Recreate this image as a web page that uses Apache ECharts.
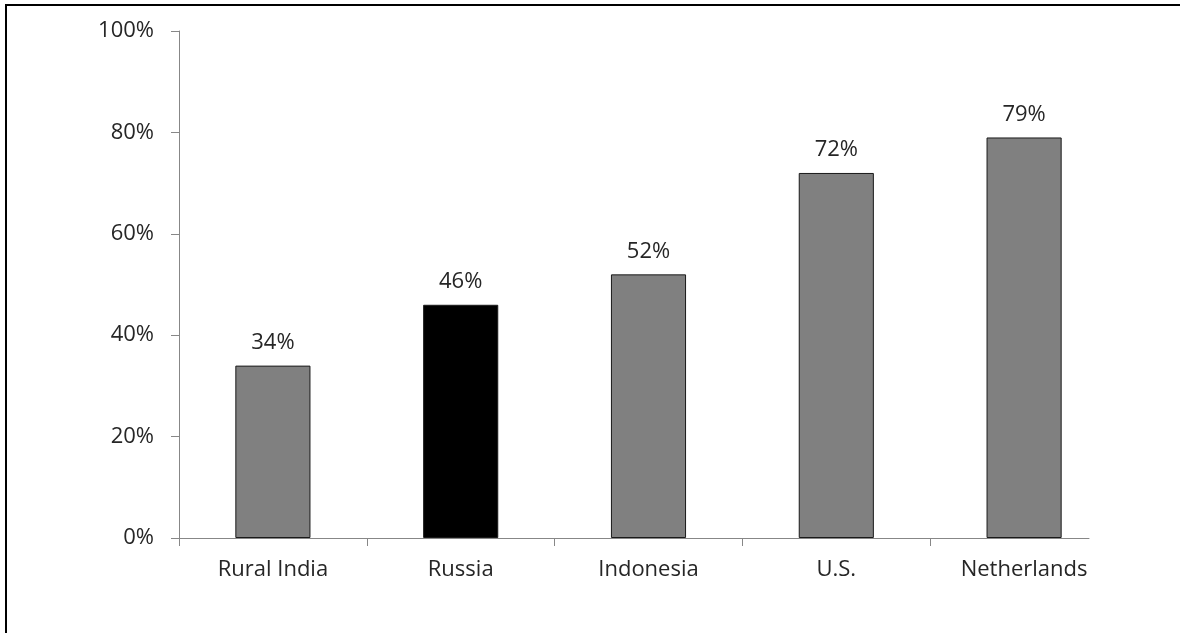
<!DOCTYPE html>
<html>
<head>
<meta charset="utf-8">
<script src="https://cdn.jsdelivr.net/npm/echarts@6/dist/echarts.min.js"></script>
<style>
html,body{margin:0;padding:0;background:#fff;}
#frame{position:absolute;left:5px;top:4px;width:1200px;height:700px;border-left:2px solid #000;border-top:2px solid #000;}
#chart{position:absolute;left:0;top:0;width:1180px;height:633px;}
</style>
</head>
<body>
<div id="frame"></div>
<div id="chart"></div>
<script>
const categories = ['Rural India', 'Russia', 'Indonesia', 'U.S.', 'Netherlands'];
const values = [34, 46, 52, 72, 79];
const barColors = ['#808080', '#000000', '#808080', '#808080', '#808080'];
const yTicks = [0, 20, 40, 60, 80, 100];

const font = '"Open Sans", sans-serif';
const axisGray = '#878787';
const textColor = '#262626';
const chart = echarts.init(document.getElementById('chart'), null, {renderer: 'canvas'});
chart.setOption({
  animation: false,
  backgroundColor: 'transparent',
  grid: [
    {left: 179, right: 62, top: 31, bottom: 95},
    {left: 179, right: 250, top: 31, bottom: 95},
    {left: 179, right: 91, top: 31, bottom: 95}
  ],
  xAxis: [
    {
      type: 'category', gridIndex: 0, data: categories,
      axisLine: {show: false},
      axisTick: {show: false},
      axisLabel: {color: textColor, fontSize: 22, fontFamily: font, margin: 21}
    },
    {
      type: 'value', gridIndex: 1, min: 0, max: 4, interval: 1,
      axisLine: {show: false, onZero: false},
      axisTick: {show: true, length: 8, lineStyle: {color: axisGray, width: 1}},
      axisLabel: {show: false}, splitLine: {show: false}
    },
    {
      type: 'value', gridIndex: 2, min: 0, max: 1,
      axisLine: {show: true, onZero: false, lineStyle: {color: axisGray, width: 1}},
      axisTick: {show: false}, axisLabel: {show: false}, splitLine: {show: false}
    }
  ],
  yAxis: [
    {
      type: 'value', gridIndex: 0, min: 0, max: 100, interval: 20,
      axisLine: {show: true, lineStyle: {color: axisGray, width: 1}},
      axisTick: {show: true, length: 8, lineStyle: {color: axisGray}},
      splitLine: {show: false},
      axisLabel: {color: textColor, fontSize: 22, fontFamily: font, margin: 25, padding: [3, 0, 0, 0],
        formatter: v => yTicks.includes(v) ? v + '%' : ''}
    },
    {type: 'value', gridIndex: 1, min: 0, max: 1, show: false},
    {type: 'value', gridIndex: 2, min: 0, max: 1, show: false}
  ],
  series: [
    {
      type: 'bar', xAxisIndex: 0, yAxisIndex: 0,
      barWidth: '40%',
      data: values.map((v, i) => ({value: v, itemStyle: {color: barColors[i]}})),
      itemStyle: {borderColor: '#1a1a1a', borderWidth: 1},
      label: {show: true, position: 'top', distance: 12, color: textColor, fontSize: 22, fontFamily: font,
        formatter: p => p.value + '%'}
    },
    {type: 'line', xAxisIndex: 1, yAxisIndex: 1, data: [], silent: true},
    {type: 'line', xAxisIndex: 2, yAxisIndex: 2, data: [], silent: true}
  ]
});
</script>
</body>
</html>
